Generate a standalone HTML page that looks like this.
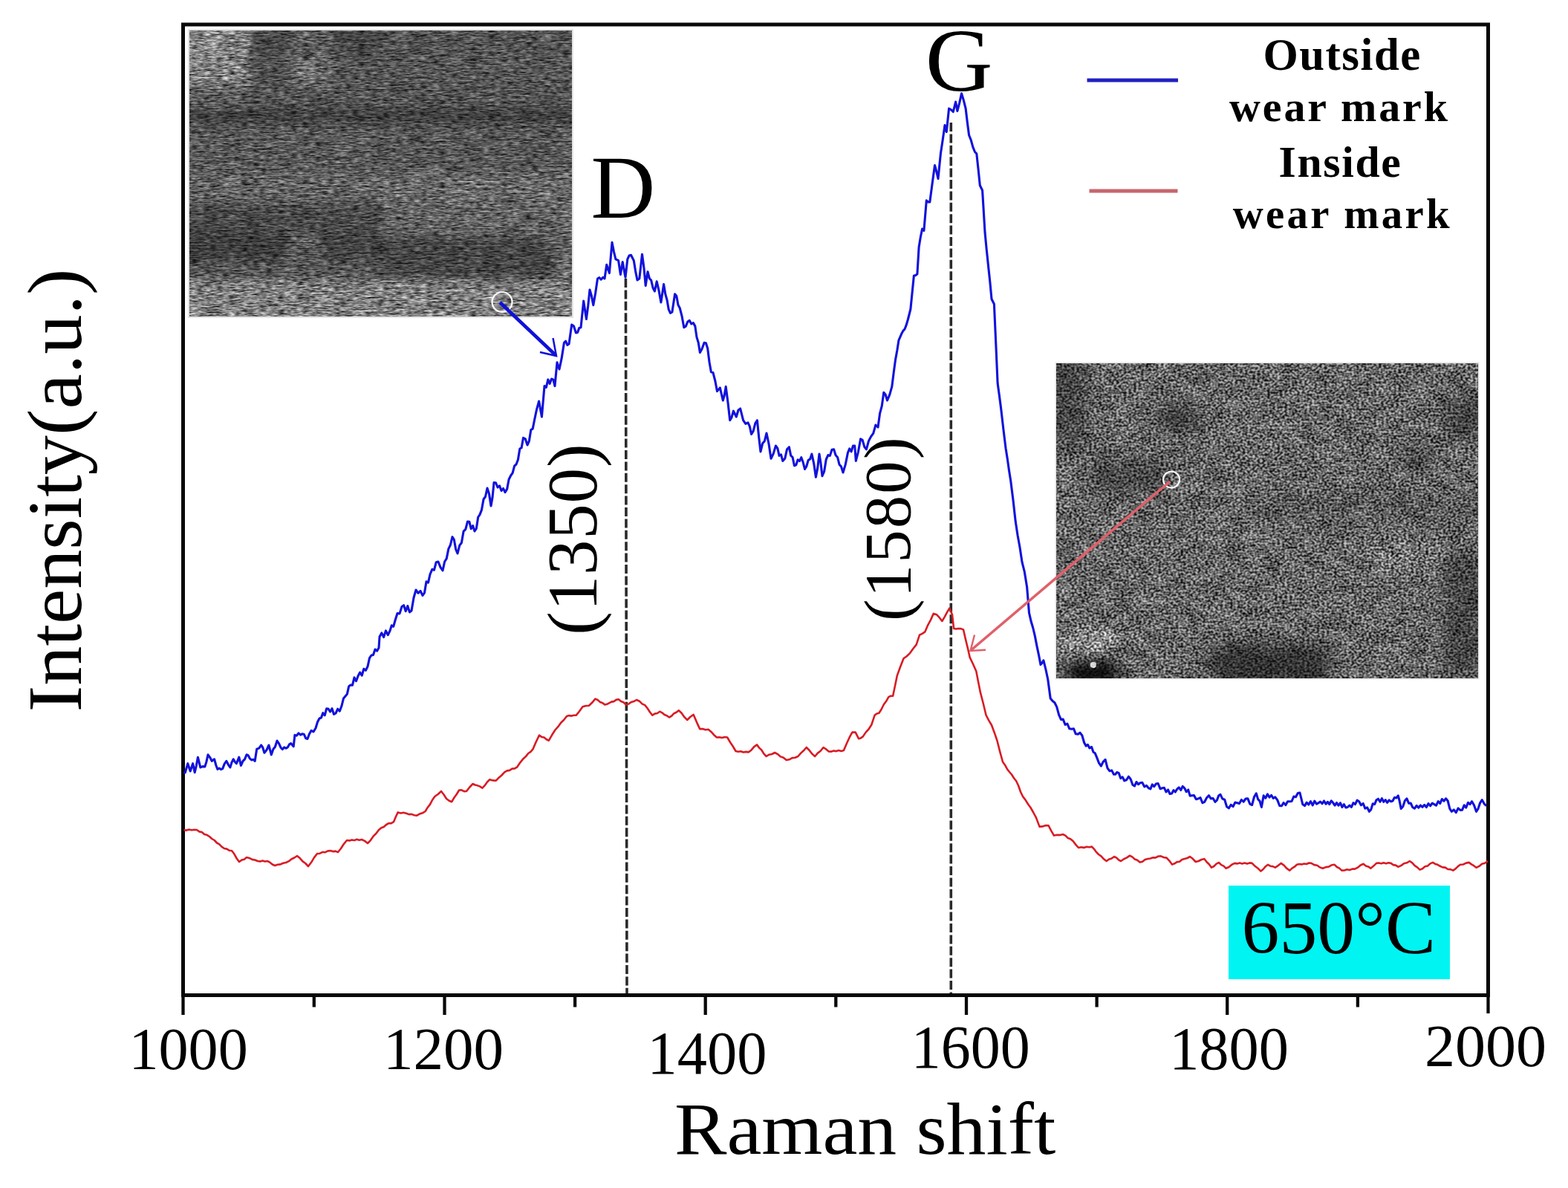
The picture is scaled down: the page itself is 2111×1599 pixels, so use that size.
<!DOCTYPE html>
<html><head><meta charset="utf-8"><style>
html,body{margin:0;padding:0;background:#fff;}
body{width:2111px;height:1599px;overflow:hidden;}
svg{display:block;}
text{font-family:"Liberation Serif","Times New Roman",serif;fill:#000;}
</style></head><body>
<svg width="2111" height="1599" viewBox="0 0 2111 1599">
<defs>
<filter id="tex1" x="0" y="0" width="100%" height="100%" color-interpolation-filters="sRGB">
 <feTurbulence type="fractalNoise" baseFrequency="0.04 0.3" numOctaves="2" seed="11" result="t1"/>
 <feColorMatrix in="t1" type="matrix" values="1.4 0 0 0 -0.2  1.4 0 0 0 -0.2  1.4 0 0 0 -0.2  0 0 0 0 1" result="g1"/>
 <feTurbulence type="fractalNoise" baseFrequency="0.12 0.5" numOctaves="2" seed="4" result="t2"/>
 <feColorMatrix in="t2" type="matrix" values="1.8 0 0 0 -0.4  1.8 0 0 0 -0.4  1.8 0 0 0 -0.4  0 0 0 0 1" result="g2"/>
 <feComposite in="g1" in2="g2" operator="arithmetic" k1="0" k2="0.4" k3="0.6" k4="0" result="n"/>
 <feBlend in="n" in2="SourceGraphic" mode="overlay"/>
</filter>
<filter id="tex2" x="0" y="0" width="100%" height="100%" color-interpolation-filters="sRGB">
 <feTurbulence type="fractalNoise" baseFrequency="0.04 0.06" numOctaves="3" seed="21" result="t1"/>
 <feColorMatrix in="t1" type="matrix" values="1.4 0 0 0 -0.2  1.4 0 0 0 -0.2  1.4 0 0 0 -0.2  0 0 0 0 1" result="g1"/>
 <feTurbulence type="fractalNoise" baseFrequency="0.3 0.36" numOctaves="1" seed="8" result="t2"/>
 <feColorMatrix in="t2" type="matrix" values="2.4 0 0 0 -0.7  2.4 0 0 0 -0.7  2.4 0 0 0 -0.7  0 0 0 0 1" result="g2"/>
 <feComposite in="g1" in2="g2" operator="arithmetic" k1="0" k2="0.25" k3="0.75" k4="0" result="n"/>
 <feBlend in="n" in2="SourceGraphic" mode="overlay"/>
</filter>
<filter id="bl" x="-10%" y="-10%" width="120%" height="120%"><feGaussianBlur stdDeviation="6"/></filter>
<filter id="bl2" x="-10%" y="-10%" width="120%" height="120%"><feGaussianBlur stdDeviation="11"/></filter>
<clipPath id="c1"><rect x="255" y="41" width="515" height="385"/></clipPath>
<clipPath id="c2"><rect x="1422" y="489" width="568" height="424"/></clipPath>
</defs>
<rect width="2111" height="1599" fill="#fff"/>

<!-- inset 1 -->
<rect x="253" y="39" width="519" height="389" fill="#e4e4e4"/>
<g clip-path="url(#c1)">
 <g filter="url(#tex1)">
 <rect x="255" y="41" width="515" height="385" fill="#545454"/>
 <g filter="url(#bl)">
  <rect x="240" y="30" width="94" height="47" fill="#868686"/>
  <rect x="334" y="30" width="56" height="47" fill="#484848"/>
  <rect x="390" y="30" width="56" height="47" fill="#5a5a5a"/>
  <rect x="446" y="30" width="69" height="47" fill="#464646"/>
  <rect x="515" y="30" width="275" height="47" fill="#525252"/>
  <rect x="240" y="77" width="94" height="37" fill="#808080"/>
  <rect x="334" y="77" width="56" height="37" fill="#505050"/>
  <rect x="390" y="77" width="56" height="37" fill="#6a6a6a"/>
  <rect x="446" y="77" width="69" height="37" fill="#525252"/>
  <rect x="515" y="77" width="275" height="37" fill="#555555"/>
  <rect x="240" y="114" width="94" height="31" fill="#5c5c5c"/>
  <rect x="334" y="114" width="456" height="31" fill="#525252"/>
  <rect x="240" y="145" width="550" height="23" fill="#404040"/>
  <rect x="240" y="168" width="275" height="64" fill="#585858"/>
  <rect x="515" y="168" width="275" height="64" fill="#565656"/>
  <rect x="240" y="232" width="275" height="41" fill="#626262"/>
  <rect x="515" y="232" width="275" height="41" fill="#686868"/>
  <rect x="240" y="273" width="275" height="39" fill="#484848"/>
  <rect x="515" y="273" width="275" height="45" fill="#626262"/>
  <rect x="240" y="312" width="150" height="38" fill="#3c3c3c"/>
  <rect x="390" y="312" width="40" height="38" fill="#5c5c5c"/>
  <rect x="430" y="312" width="85" height="38" fill="#424242"/>
  <rect x="515" y="318" width="229" height="59" fill="#454545"/>
  <rect x="744" y="318" width="46" height="59" fill="#5e5e5e"/>
  <rect x="240" y="350" width="275" height="24" fill="#555555"/>
  <rect x="240" y="377" width="550" height="63" fill="#7e7e7e"/>
 </g>
 </g>
</g>

<!-- inset 2 -->
<rect x="1420.5" y="487.5" width="571" height="427" fill="#e4e4e4"/>
<g clip-path="url(#c2)">
 <g filter="url(#tex2)">
 <rect x="1422" y="489" width="568" height="424" fill="#666666"/>
 <g filter="url(#bl2)">
  <rect x="1410" y="480" width="51" height="120" fill="#444444"/>
  <rect x="1557" y="545" width="55" height="35" fill="#404040"/>
  <rect x="1468" y="617" width="103" height="48" fill="#4a4a4a"/>
  <rect x="1945" y="535" width="55" height="55" fill="#404040"/>
  <rect x="1884" y="597" width="41" height="41" fill="#4e4e4e"/>
  <rect x="1705" y="666" width="295" height="36" fill="#585858"/>
  <rect x="1436" y="852" width="64" height="28" fill="#a0a0a0"/>
  <rect x="1436" y="878" width="69" height="47" fill="#080808"/>
  <rect x="1630" y="868" width="160" height="57" fill="#303030"/>
  <rect x="1945" y="745" width="55" height="165" fill="#444444"/>
  <rect x="1842" y="735" width="97" height="29" fill="#787878"/>
 </g>
 <circle cx="1472" cy="895" r="4" fill="#e0e0e0"/>
 </g>
</g>

<!-- frame -->
<rect x="246.5" y="33" width="1757" height="1306.5" fill="none" stroke="#080808" stroke-width="5"/>
<g stroke="#080808" stroke-width="4.3"><line x1="246.5" y1="1339" x2="246.5" y2="1366.0"/><line x1="422.8" y1="1339" x2="422.8" y2="1355.5"/><line x1="598.5" y1="1339" x2="598.5" y2="1366.0"/><line x1="774.1" y1="1339" x2="774.1" y2="1355.5"/><line x1="949.7" y1="1339" x2="949.7" y2="1366.0"/><line x1="1125.3" y1="1339" x2="1125.3" y2="1355.5"/><line x1="1301.0" y1="1339" x2="1301.0" y2="1366.0"/><line x1="1476.6" y1="1339" x2="1476.6" y2="1355.5"/><line x1="1652.2" y1="1339" x2="1652.2" y2="1366.0"/><line x1="1827.9" y1="1339" x2="1827.9" y2="1355.5"/><line x1="2003.5" y1="1339" x2="2003.5" y2="1364.0"/></g>

<!-- dashed lines -->
<line x1="842.4" y1="375" x2="844" y2="1337" stroke="#2a2a2a" stroke-width="3.6" stroke-dasharray="12 3.4"/>
<line x1="1280.3" y1="165" x2="1280.3" y2="1337" stroke="#2a2a2a" stroke-width="3.6" stroke-dasharray="12 3.4"/>

<!-- curves -->
<path d="M247.5 1041.0L249.4 1039.7L252.8 1027.7L256.2 1038.0L259.6 1027.7L262.2 1039.7L264.3 1030.6L266.4 1019.2L269.8 1032.9L272.8 1031.6L275.8 1032.0L277.9 1025.4L280.0 1015.8L282.6 1019.3L285.2 1024.3L288.6 1021.8L290.8 1030.0L292.9 1035.4L295.2 1034.0L297.4 1035.6L299.7 1034.6L302.2 1028.1L304.8 1024.3L307.4 1029.3L309.9 1032.9L312.0 1026.1L314.2 1021.8L316.3 1025.5L318.4 1027.7L321.8 1019.2L324.4 1030.3L326.9 1024.6L329.5 1021.9L332.0 1015.8L334.1 1016.6L336.3 1020.9L338.6 1022.9L340.9 1022.2L343.2 1024.3L345.7 1008.1L348.7 1007.1L351.7 1003.0L353.8 1006.2L355.9 1013.2L358.9 1009.6L361.9 1003.0L365.3 1015.8L367.9 1008.3L370.4 1005.2L373.0 997.0L375.6 1000.9L378.1 1006.4L380.4 1008.5L382.7 1005.9L385.0 1007.3L387.2 1005.9L389.5 1001.9L391.7 1000.5L395.2 1004.7L396.9 989.4L399.4 990.1L402.0 986.8L404.6 989.1L407.1 987.7L409.4 988.5L411.7 993.8L414.0 994.5L416.5 987.8L419.0 983.4L422.0 984.9L425.0 980.0L427.5 971.7L430.0 967.0L432.4 966.1L434.8 959.6L437.2 962.8L439.6 953.8L442.0 954.0L444.5 958.0L447.0 953.7L449.5 961.4L452.0 960.0L454.7 954.2L457.3 957.2L460.0 950.0L462.5 939.9L465.0 937.0L467.3 934.3L469.7 923.7L472.0 922.0L474.5 922.1L477.0 911.9L479.5 916.7L482.0 910.0L484.6 905.0L487.2 909.2L489.8 900.3L492.4 902.4L495.0 897.0L497.5 885.7L500.0 882.0L502.5 881.5L505.0 874.0L507.5 876.2L510.0 872.0L511.0 857.0L513.8 851.9L516.6 857.6L519.4 848.9L522.2 854.7L525.0 849.0L527.3 841.8L529.7 843.3L532.0 835.0L535.0 825.5L538.0 825.9L541.0 816.5L543.6 814.7L546.2 822.7L548.8 815.5L551.4 823.9L554.0 822.0L557.0 804.5L560.0 794.0L563.0 798.3L566.0 795.4L569.0 801.5L571.5 797.8L574.0 782.8L576.5 784.1L579.0 773.0L581.8 766.3L584.5 767.2L587.2 756.7L590.0 756.0L593.0 763.6L596.0 768.0L598.6 756.0L601.2 751.9L603.8 738.9L606.4 733.5L609.0 722.7L611.3 726.3L613.7 739.5L616.0 745.0L618.7 734.1L621.4 730.5L624.1 715.1L626.8 712.4L629.5 702.0L631.9 702.4L634.2 711.7L636.6 707.6L639.0 715.0L641.3 711.5L643.7 696.0L646.0 692.6L648.5 686.1L651.0 672.0L653.5 668.5L656.0 657.0L658.5 664.8L661.0 681.0L663.0 669.6L665.0 649.5L667.5 649.7L670.0 656.0L672.5 653.8L675.0 660.5L677.5 657.4L680.0 662.6L682.6 658.4L685.1 645.2L687.7 640.0L690.1 636.6L692.6 627.2L695.0 625.0L697.4 618.8L699.8 604.0L702.1 602.7L704.5 589.4L707.2 590.6L710.0 599.0L712.4 593.6L714.8 578.6L717.2 577.1L719.6 565.0L722.6 550.8L725.6 540.0L729.4 561.0L733.0 519.6L735.4 521.4L737.8 510.9L740.1 516.5L742.5 510.0L744.8 510.9L747.0 519.6L750.0 487.7L753.0 497.0L756.2 481.9L759.4 461.4L761.6 459.2L763.8 464.3L766.0 463.0L769.7 437.0L772.5 439.1L775.4 448.0L777.6 447.4L779.8 441.4L782.0 440.8L785.7 405.0L789.4 429.5L791.7 411.9L794.0 390.0L796.4 398.3L798.8 410.7L801.6 394.8L804.5 375.0L806.9 373.7L809.2 376.2L811.6 373.4L814.0 375.0L816.7 356.3L820.4 367.6L824.0 326.3L826.5 339.0L828.9 348.8L832.6 350.7L835.4 369.4L838.2 352.6L842.0 373.2L844.8 348.8L847.1 343.9L849.5 343.2L853.3 350.7L855.6 365.1L858.0 377.0L860.8 375.0L864.5 342.2L866.9 360.1L869.2 384.5L872.0 365.7L874.4 374.9L876.7 377.3L879.0 387.2L881.4 392.0L884.2 378.8L887.0 390.9L889.9 407.0L893.6 382.6L895.8 395.9L898.0 403.6L900.2 416.4L902.5 421.4L904.9 420.0L908.6 395.7L910.8 398.5L913.0 410.5L915.2 414.5L918.0 425.3L920.8 440.8L923.3 439.1L925.8 433.1L928.3 431.4L930.8 435.9L933.3 434.6L935.8 438.9L938.0 453.9L940.2 461.0L942.4 474.5L945.2 469.2L948.0 461.4L950.4 461.8L952.7 469.0L955.0 487.3L957.4 500.8L960.0 501.6L962.8 512.5L965.5 526.6L969.4 522.0L973.3 539.0L975.2 532.2L977.2 520.4L980.0 541.8L982.7 565.7L985.0 561.9L987.4 553.2L991.3 561.0L994.0 552.0L996.7 550.0L1000.6 565.7L1003.8 570.4L1007.0 568.8L1009.3 573.8L1011.6 584.5L1014.2 580.1L1016.8 569.9L1019.4 565.7L1021.7 588.5L1024.0 608.0L1026.7 596.7L1029.3 593.8L1032.0 583.0L1035.0 597.2L1038.0 617.3L1041.2 610.6L1044.4 600.0L1046.8 603.4L1049.1 613.3L1051.5 611.8L1053.8 620.4L1056.7 617.3L1059.5 604.9L1062.4 601.7L1064.7 613.1L1067.1 615.5L1069.4 626.7L1071.8 625.7L1074.1 618.8L1076.5 620.5L1078.8 615.7L1081.2 622.3L1083.5 631.4L1085.8 627.6L1088.2 619.3L1090.6 617.9L1092.9 611.0L1095.7 623.8L1098.4 642.3L1100.7 630.1L1103.0 611.0L1105.0 623.6L1107.0 640.7L1109.6 634.7L1112.2 618.5L1114.8 612.6L1117.4 613.4L1120.0 605.3L1122.6 604.8L1125.1 612.8L1127.6 615.5L1130.0 625.2L1132.5 628.1L1135.0 636.0L1138.2 625.4L1141.4 609.5L1143.7 603.9L1146.1 607.9L1148.4 600.1L1150.7 600.0L1152.3 620.4L1155.4 608.3L1158.6 590.7L1161.2 592.4L1163.8 601.5L1166.4 604.8L1169.5 593.5L1172.6 587.6L1175.8 583.1L1178.9 572.0L1182.0 575.0L1184.6 556.4L1187.2 546.7L1189.8 528.2L1192.2 531.3L1194.5 539.0L1197.7 531.3L1200.8 520.4L1203.2 501.4L1205.5 484.4L1207.8 471.8L1210.0 457.8L1213.5 449.8L1215.8 445.4L1218.0 443.0L1220.2 437.4L1222.5 429.5L1225.9 416.0L1228.2 392.8L1230.4 371.0L1232.7 370.6L1234.9 368.8L1237.1 332.8L1239.3 319.2L1241.6 308.0L1243.9 310.3L1247.3 269.8L1249.5 271.9L1251.8 272.0L1255.1 247.3L1258.5 222.5L1260.8 230.9L1263.0 240.5L1266.4 206.8L1269.2 188.2L1272.0 168.5L1274.3 177.5L1277.6 146.0L1280.4 147.7L1283.3 150.5L1286.6 137.0L1288.9 149.4L1291.7 138.7L1294.5 125.8L1297.3 134.9L1300.1 146.0L1302.3 164.5L1304.6 182.0L1307.2 188.4L1309.9 198.2L1312.5 204.5L1314.8 206.8L1317.0 227.2L1319.3 249.5L1322.6 256.3L1326.0 312.5L1328.2 335.7L1330.5 357.5L1332.8 379.2L1335.0 402.5L1338.4 409.3L1340.8 463.0L1343.1 515.7L1345.3 531.7L1347.5 548.5L1350.8 577.1L1354.0 603.3L1356.2 616.9L1358.5 633.3L1360.7 647.0L1364.0 673.3L1367.2 701.8L1370.1 720.8L1373.1 737.2L1376.0 756.5L1379.3 769.7L1382.6 790.0L1385.5 824.9L1388.1 836.3L1390.7 845.0L1393.3 855.9L1395.9 869.4L1398.4 881.1L1401.0 894.6L1403.0 892.3L1404.9 888.8L1407.8 900.5L1410.7 914.0L1414.2 940.0L1417.1 943.5L1419.9 945.7L1422.7 951.4L1425.6 962.1L1428.4 968.4L1431.2 968.1L1434.1 975.3L1436.9 974.1L1439.8 980.8L1442.6 981.2L1445.5 980.8L1448.3 987.8L1451.2 988.3L1454.0 986.2L1456.8 989.7L1459.7 999.7L1462.1 1004.1L1464.4 1002.3L1466.8 1006.8L1469.6 1005.4L1472.0 1012.2L1474.3 1013.8L1476.7 1019.6L1479.6 1027.2L1482.4 1031.0L1485.2 1025.3L1488.1 1022.4L1491.0 1033.8L1493.8 1037.7L1496.7 1036.9L1499.5 1042.3L1501.6 1042.3L1503.7 1039.5L1506.2 1040.4L1508.7 1047.6L1511.2 1045.8L1513.7 1050.8L1516.6 1049.7L1519.4 1045.2L1522.2 1048.8L1525.0 1056.5L1527.5 1057.9L1530.0 1052.5L1532.5 1055.7L1535.0 1053.7L1537.8 1053.3L1540.7 1058.8L1543.6 1057.4L1546.4 1060.8L1548.9 1061.9L1551.3 1055.9L1553.8 1058.7L1556.3 1055.1L1559.1 1054.5L1562.0 1061.7L1564.8 1060.8L1567.4 1060.3L1569.9 1065.9L1572.5 1063.0L1575.0 1068.5L1577.6 1067.9L1580.0 1063.6L1582.3 1066.0L1584.7 1062.2L1587.2 1059.8L1589.7 1063.5L1592.2 1058.3L1594.7 1060.8L1597.2 1065.7L1599.7 1063.0L1602.1 1071.1L1604.6 1070.7L1607.5 1070.6L1610.3 1075.7L1613.2 1075.0L1616.0 1073.5L1618.9 1080.6L1621.7 1079.3L1624.6 1073.7L1627.4 1070.7L1630.2 1074.9L1633.1 1074.5L1635.9 1079.3L1638.3 1077.2L1640.6 1071.1L1643.0 1069.3L1645.8 1075.1L1648.7 1076.2L1651.6 1085.8L1654.4 1087.8L1657.2 1083.2L1660.1 1085.6L1662.9 1080.0L1665.7 1080.7L1668.5 1081.6L1671.4 1076.5L1674.2 1079.2L1677.1 1075.0L1679.9 1074.9L1682.8 1082.1L1685.6 1083.5L1688.4 1072.8L1691.3 1067.9L1693.7 1075.9L1696.0 1078.2L1698.4 1086.4L1701.2 1070.9L1703.8 1074.2L1706.4 1068.9L1709.0 1073.2L1711.6 1070.3L1714.2 1074.5L1716.8 1072.8L1719.8 1076.9L1722.7 1084.5L1725.4 1084.8L1728.1 1080.5L1730.9 1083.5L1733.6 1078.8L1736.3 1078.7L1739.0 1078.5L1741.8 1072.1L1744.5 1072.8L1747.3 1067.6L1750.0 1067.0L1753.8 1082.6L1756.5 1084.6L1759.2 1080.1L1761.8 1083.0L1764.5 1078.6L1767.2 1083.9L1769.8 1078.2L1772.5 1082.1L1775.2 1080.6L1777.6 1079.0L1780.1 1081.7L1782.5 1078.0L1785.0 1082.2L1787.4 1079.3L1789.8 1082.5L1792.3 1077.8L1794.7 1080.6L1797.1 1084.0L1799.6 1080.5L1802.0 1084.2L1804.5 1080.7L1806.9 1086.5L1809.3 1082.6L1811.8 1087.0L1814.2 1086.5L1816.8 1084.0L1819.4 1086.3L1822.0 1080.7L1824.5 1082.5L1827.1 1077.1L1829.7 1078.7L1832.4 1083.7L1835.2 1081.5L1837.9 1088.1L1840.7 1086.9L1843.4 1092.3L1845.8 1089.6L1848.2 1081.8L1850.7 1082.5L1853.1 1076.7L1855.5 1075.2L1858.0 1079.3L1860.4 1074.6L1862.8 1079.3L1865.3 1076.6L1867.7 1080.3L1870.2 1076.9L1872.6 1078.7L1875.0 1078.0L1877.4 1073.4L1879.9 1074.0L1882.3 1070.9L1884.2 1078.2L1886.2 1088.4L1888.8 1085.5L1891.4 1077.7L1894.0 1074.8L1896.6 1081.2L1899.2 1081.0L1901.8 1086.5L1904.5 1088.2L1907.1 1084.4L1909.8 1087.2L1912.4 1084.0L1915.1 1086.3L1917.7 1083.3L1920.4 1086.5L1923.0 1081.5L1925.7 1084.7L1928.3 1081.0L1931.0 1082.6L1933.6 1084.2L1936.2 1078.7L1938.8 1081.3L1941.4 1075.5L1944.0 1078.1L1946.6 1074.8L1949.2 1078.0L1951.8 1088.3L1954.4 1092.3L1957.3 1089.8L1960.2 1093.7L1963.1 1087.9L1966.0 1090.4L1968.6 1090.2L1971.2 1083.8L1973.8 1087.0L1976.4 1080.3L1979.0 1082.5L1981.6 1078.7L1984.5 1083.8L1987.5 1092.3L1990.1 1088.3L1992.7 1080.6L1995.3 1076.7L1998.2 1081.8L2001.1 1084.5" fill="none" stroke="#1212dc" stroke-width="3.1" stroke-linejoin="round"/>
<path d="M247.5 1117.0L251.0 1117.6L254.5 1116.6L258.0 1117.3L261.5 1116.7L265.0 1117.0L268.4 1119.4L271.8 1120.0L275.2 1123.0L278.6 1123.8L282.0 1126.0L285.3 1129.0L288.7 1131.0L292.0 1134.5L295.3 1136.3L298.7 1139.8L302.0 1142.0L305.3 1142.6L308.7 1144.7L312.0 1145.0L315.3 1149.3L318.7 1155.5L322.0 1160.0L325.3 1157.6L328.7 1156.7L332.0 1154.0L335.8 1154.9L339.5 1156.9L343.2 1157.5L347.0 1159.0L350.2 1159.4L353.5 1158.5L356.8 1159.5L360.0 1159.0L363.3 1160.7L366.7 1163.5L370.0 1165.0L373.8 1163.8L377.5 1163.4L381.2 1161.7L385.0 1161.0L388.8 1159.2L392.5 1156.2L396.2 1154.5L400.0 1152.0L403.8 1155.1L407.5 1159.4L411.2 1162.0L415.0 1166.0L419.0 1160.8L423.0 1154.1L427.0 1149.0L430.6 1148.7L434.2 1146.8L437.8 1147.2L441.4 1145.4L445.0 1145.0L448.3 1146.1L451.7 1145.6L455.0 1147.0L459.0 1142.0L463.0 1135.8L467.0 1131.0L470.3 1131.4L473.7 1130.4L477.0 1131.1L480.3 1129.7L483.7 1130.7L487.0 1130.0L491.0 1131.9L495.0 1135.0L498.8 1131.1L502.5 1125.7L506.2 1122.0L510.0 1117.0L513.3 1114.2L516.7 1113.0L520.0 1110.0L523.3 1108.1L526.7 1108.1L530.0 1106.2L532.9 1099.3L535.7 1093.4L539.5 1094.5L543.2 1093.8L547.0 1094.8L550.6 1096.1L554.1 1095.9L557.7 1097.2L561.3 1097.6L565.1 1095.4L568.8 1094.3L572.6 1092.0L575.8 1086.7L579.0 1082.6L582.2 1076.5L585.4 1072.0L589.7 1069.0L594.0 1065.0L597.5 1069.5L601.0 1075.0L604.6 1077.7L608.2 1079.2L611.5 1073.5L614.8 1069.0L618.1 1063.5L621.4 1063.4L624.7 1065.1L628.0 1065.0L632.3 1059.5L636.6 1055.0L639.5 1056.5L642.3 1057.1L645.8 1058.4L649.4 1060.7L652.7 1057.2L656.0 1052.5L659.3 1049.3L663.5 1050.4L667.8 1050.7L671.6 1046.7L675.4 1043.5L679.2 1039.4L682.6 1037.4L686.0 1036.9L689.5 1034.6L692.9 1034.4L696.3 1032.3L700.5 1026.1L704.8 1020.9L708.0 1018.1L711.2 1014.0L714.4 1011.9L717.6 1008.1L721.8 998.3L726.0 989.6L729.2 991.9L732.5 992.6L735.7 995.2L738.9 996.7L743.1 989.3L747.4 982.5L751.3 978.2L755.2 972.7L759.1 969.0L763.0 964.0L766.2 963.1L769.4 963.6L772.6 962.7L775.8 962.6L780.1 957.3L784.4 951.3L788.6 950.0L792.9 949.8L797.1 945.8L801.4 940.6L804.6 942.0L807.8 944.9L811.0 946.0L814.2 948.4L817.1 947.8L820.0 946.3L823.2 944.6L826.4 944.1L829.6 941.9L832.8 941.3L836.1 944.0L839.4 945.3L842.7 948.4L846.3 947.5L849.9 944.9L853.4 944.1L857.0 942.0L860.8 943.7L864.5 947.4L868.3 949.1L871.6 953.2L875.0 958.5L878.3 962.6L881.6 960.6L884.9 960.0L888.2 957.7L891.4 959.3L894.6 962.1L897.8 963.2L901.0 965.5L904.2 963.7L907.4 960.2L910.6 958.8L913.8 956.2L917.6 959.8L921.4 965.2L925.2 969.0L929.5 964.8L933.7 961.9L938.0 972.1L942.2 981.1L946.0 981.0L949.8 982.2L953.6 981.8L957.4 984.9L961.2 989.2L965.0 992.5L968.5 992.3L972.1 993.0L975.7 992.0L979.2 992.5L983.0 999.0L986.7 1004.5L990.5 1011.0L993.9 1011.7L997.3 1011.2L1000.8 1012.5L1004.2 1011.9L1007.6 1012.4L1011.4 1009.7L1015.2 1005.1L1019.0 1002.4L1022.2 1006.6L1025.3 1009.5L1028.5 1014.7L1031.7 1018.0L1035.5 1015.7L1039.3 1015.0L1043.1 1013.0L1047.0 1015.1L1050.9 1018.4L1054.8 1019.8L1058.7 1023.0L1062.6 1022.3L1066.6 1020.1L1070.5 1019.7L1074.4 1018.0L1078.2 1013.6L1081.9 1010.3L1085.7 1006.0L1089.5 1009.7L1093.3 1014.6L1097.1 1018.0L1100.9 1013.6L1104.7 1010.7L1108.5 1006.0L1112.2 1008.4L1115.8 1011.5L1119.2 1011.6L1122.5 1010.5L1125.8 1011.1L1129.2 1010.1L1132.6 1010.9L1135.9 1010.0L1140.2 1000.0L1143.8 992.2L1147.4 985.6L1151.7 985.6L1156.0 994.2L1158.9 993.4L1161.8 991.4L1165.6 985.6L1169.5 981.5L1173.3 975.5L1177.6 962.6L1180.5 960.5L1183.4 959.7L1186.6 954.8L1189.8 948.3L1193.1 943.8L1196.3 938.1L1199.2 936.8L1202.1 936.7L1204.9 923.5L1207.8 909.4L1212.2 897.3L1216.5 886.3L1220.8 883.2L1225.1 879.1L1229.4 873.0L1233.7 867.6L1238.0 854.7L1241.7 852.8L1245.3 850.4L1249.1 841.6L1253.0 834.4L1256.8 825.9L1261.1 827.3L1264.7 831.2L1268.3 836.0L1271.6 830.6L1275.0 824.1L1278.3 818.7L1282.0 827.3L1284.1 846.0L1287.0 846.6L1289.9 846.0L1293.5 846.1L1297.0 847.5L1299.9 860.1L1302.8 872.0L1305.7 884.9L1310.0 893.7L1314.3 903.6L1317.2 918.4L1320.0 932.4L1323.8 947.0L1327.5 962.5L1331.2 969.7L1335.0 976.0L1338.8 986.2L1342.5 997.0L1346.2 1011.6L1350.0 1025.5L1353.0 1029.7L1356.0 1035.2L1359.0 1039.0L1362.0 1042.5L1365.0 1047.3L1368.0 1051.0L1371.0 1057.3L1374.0 1065.7L1377.0 1072.0L1380.5 1076.6L1384.0 1082.3L1387.5 1087.0L1391.2 1093.5L1395.0 1100.6L1399.5 1112.6L1403.5 1112.4L1407.5 1111.1L1411.5 1111.0L1415.2 1118.1L1419.0 1124.6L1423.0 1123.7L1427.0 1123.9L1431.0 1123.0L1434.4 1124.7L1437.8 1128.1L1441.2 1129.2L1444.6 1132.0L1448.3 1136.9L1452.0 1141.0L1455.6 1140.3L1459.2 1140.9L1462.8 1139.7L1466.4 1140.3L1470.0 1139.6L1473.0 1142.8L1476.0 1146.9L1479.0 1150.0L1482.5 1152.3L1486.1 1156.3L1489.6 1159.0L1493.1 1156.5L1496.5 1155.5L1500.0 1153.0L1503.0 1154.4L1506.0 1157.3L1509.0 1159.0L1513.0 1156.2L1517.0 1154.4L1521.0 1151.6L1524.4 1153.4L1527.8 1156.5L1531.2 1157.7L1534.6 1160.6L1538.1 1159.7L1541.5 1156.9L1545.0 1156.0L1548.6 1155.5L1552.2 1154.3L1555.8 1154.4L1559.4 1152.5L1563.0 1152.4L1566.8 1154.0L1570.6 1154.6L1574.3 1158.6L1578.0 1163.6L1581.3 1162.3L1584.6 1160.1L1588.0 1159.7L1591.3 1156.9L1594.6 1156.0L1598.3 1155.1L1602.0 1153.0L1605.8 1155.8L1609.7 1160.0L1613.6 1159.0L1617.5 1157.0L1621.4 1156.0L1624.6 1160.2L1627.8 1163.3L1631.0 1167.7L1634.3 1166.0L1637.7 1162.6L1641.0 1161.0L1644.2 1164.1L1647.4 1165.6L1650.6 1168.7L1654.5 1167.0L1658.4 1163.7L1662.3 1161.9L1665.6 1162.4L1669.0 1161.6L1672.3 1162.5L1675.7 1161.5L1679.0 1162.6L1682.4 1161.4L1685.7 1161.9L1689.6 1165.8L1693.5 1168.7L1697.4 1172.6L1700.6 1170.0L1703.8 1166.2L1707.0 1163.8L1710.3 1165.7L1713.5 1166.1L1716.8 1167.7L1720.7 1165.1L1724.6 1161.9L1728.5 1164.6L1732.4 1168.9L1736.3 1171.6L1739.5 1168.6L1742.8 1166.7L1746.0 1163.8L1749.2 1163.0L1752.5 1163.4L1755.8 1162.5L1759.0 1163.0L1762.2 1161.5L1765.5 1161.9L1769.4 1164.1L1773.2 1164.7L1777.1 1167.5L1781.0 1168.7L1784.9 1167.1L1788.8 1166.6L1792.8 1164.3L1796.7 1163.8L1799.9 1167.0L1803.2 1168.6L1806.4 1171.6L1809.9 1171.5L1813.4 1170.3L1817.0 1171.0L1820.5 1169.6L1824.0 1169.6L1827.9 1167.7L1831.7 1164.5L1835.6 1162.8L1838.8 1165.4L1842.1 1166.4L1845.3 1168.7L1849.2 1165.6L1853.1 1161.9L1856.3 1161.5L1859.6 1162.3L1862.8 1161.3L1866.1 1162.2L1869.3 1161.3L1872.6 1161.9L1875.8 1164.1L1879.1 1164.6L1882.3 1166.7L1886.2 1165.1L1890.1 1162.2L1894.0 1161.3L1897.9 1159.0L1901.3 1161.3L1904.7 1165.2L1908.1 1167.4L1911.5 1170.6L1915.0 1169.3L1918.5 1166.3L1922.0 1165.5L1925.5 1162.4L1929.0 1160.9L1932.3 1162.9L1935.5 1163.8L1938.8 1165.8L1942.3 1167.4L1945.8 1167.6L1949.3 1170.0L1952.8 1170.1L1956.3 1171.6L1959.5 1169.4L1962.8 1166.1L1966.0 1163.8L1969.9 1163.5L1973.8 1161.6L1977.7 1160.9L1981.0 1163.4L1984.2 1165.2L1987.5 1167.7L1991.4 1165.9L1995.2 1162.7L1999.1 1161.8L2003.0 1159.0" fill="none" stroke="#d81c24" stroke-width="2.6" stroke-linejoin="round"/>

<!-- arrows -->
<circle cx="676" cy="406.5" r="13.5" fill="none" stroke="#fff" stroke-width="2.2"/>
<line x1="673" y1="407" x2="748" y2="478" stroke="#1010d8" stroke-width="4.5"/>
<polyline points="744.5,455 749,479 727,474" fill="none" stroke="#1010d8" stroke-width="2.5"/>
<circle cx="1577" cy="645.5" r="11" fill="none" stroke="#fff" stroke-width="2.2"/>
<line x1="1575" y1="648" x2="1308" y2="874.5" stroke="#e0606a" stroke-width="3.6"/>
<polyline points="1312,854.5 1306.5,876 1327,874.7" fill="none" stroke="#e0606a" stroke-width="2.4"/>

<!-- cyan box -->
<rect x="1654" y="1192" width="298" height="126" fill="#00f4f2"/>

<!-- legend -->
<line x1="1463.5" y1="108" x2="1586" y2="108" stroke="#2020c0" stroke-width="5"/>
<line x1="1466.5" y1="257" x2="1585.5" y2="257" stroke="#c6666e" stroke-width="5"/>

<text transform="translate(795.55,293.49) scale(0.9951,1)" font-size="120.75">D</text>
<text transform="translate(1245.67,121.97) scale(1.0391,1)" font-size="120.97">G</text>
<text transform="translate(802.50,854.70) rotate(-90)" font-size="95.16" letter-spacing="0.72">(1350)</text>
<text transform="translate(1225.00,836.10) rotate(-90)" font-size="88.94" letter-spacing="2.11">(1580)</text>
<text transform="translate(1700.40,94.10)" font-size="60.85" font-weight="bold" letter-spacing="1.51">Outside</text>
<text transform="translate(1655.10,163.40)" font-size="58.02" font-weight="bold" letter-spacing="2.83">wear mark</text>
<text transform="translate(1721.60,237.50)" font-size="59.69" font-weight="bold" letter-spacing="1.64">Inside</text>
<text transform="translate(1659.70,307.20)" font-size="56.84" font-weight="bold" letter-spacing="3.27">wear mark</text>
<text transform="translate(1671.53,1282.56) scale(0.9973,1)" font-size="102.06">650°C</text>
<text transform="translate(907.98,1552.66) scale(1.0714,1)" font-size="98.58">Raman shift</text>
<text transform="translate(108.57,958.22) rotate(-90) scale(1.0293,1)" font-size="103.37">Intensity(a.u.)</text>
<text transform="translate(173.38,1439.20) scale(1.0027,1)" font-size="80.00">1000</text>
<text transform="translate(515.91,1438.82) scale(1.0163,1)" font-size="79.77">1200</text>
<text transform="translate(871.56,1445.19) scale(0.9869,1)" font-size="81.50">1400</text>
<text transform="translate(1226.81,1436.78) scale(0.9804,1)" font-size="81.50">1600</text>
<text transform="translate(1574.16,1439.37) scale(0.9869,1)" font-size="81.50">1800</text>
<text transform="translate(1918.10,1435.20) scale(1.0249,1)" font-size="80.00">2000</text>

</svg>
</body></html>
